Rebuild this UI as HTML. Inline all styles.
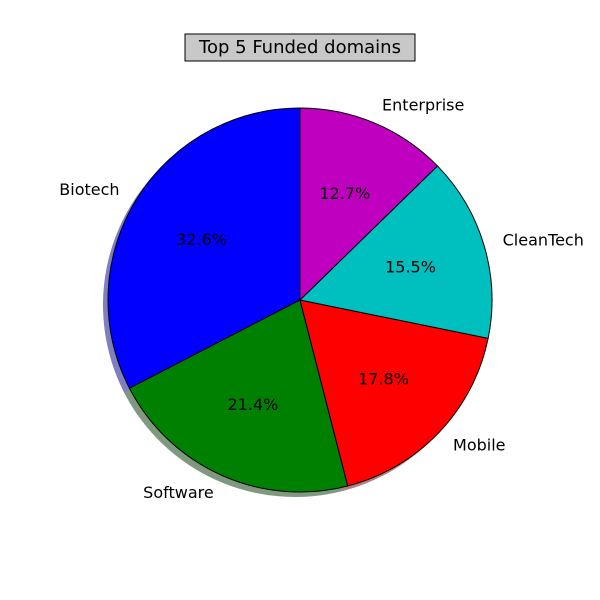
<!DOCTYPE html>
<html><head><meta charset="utf-8"><style>
html,body{margin:0;padding:0;background:#fff}
svg{display:block;font-family:"DejaVu Sans","Liberation Sans",sans-serif}
</style></head><body>
<svg id="chart" width="600" height="600" viewBox="0 0 600 600">
<rect width="600" height="600" fill="#fff"/>
<g>
<rect x="185" y="34" width="230" height="27" fill="#c8c8c8" stroke="#000" stroke-width="1"/>
<text x="300" y="53" font-size="18" text-anchor="middle">Top 5 Funded domains</text>
</g>
<g id="shadows"></g>
<g id="slices"></g>
<g id="labels"></g>
</svg>
<script>
const labels = ["Biotech","Software","Mobile","CleanTech","Enterprise"];
const values = [32.6,21.4,17.8,15.5,12.7];
const colors = ["#0000ff","#008000","#ff0000","#00bfbf","#bf00bf"];
const shadowColors = ["#000080","#003300","#660000","#004d4d","#4d004d"];
const cx=300, cy=300, R=192, startAngle=90;
const NS="http://www.w3.org/2000/svg";
const total = values.reduce((a,b)=>a+b,0);
function pt(deg,r,ox,oy){const a=deg*Math.PI/180;return [cx+(ox||0)+r*Math.cos(a), cy+(oy||0)-r*Math.sin(a)];}
function arcPath(a0,a1,ox,oy){
  const p0=pt(a0,R,ox,oy), p1=pt(a1,R,ox,oy);
  const large=(a1-a0)>180?1:0;
  return `M${cx+ox},${cy+oy} L${p0[0]},${p0[1]} A${R},${R} 0 ${large} 0 ${p1[0]},${p1[1]} Z`;
}
const sg=document.getElementById('shadows'), pg=document.getElementById('slices'), lg=document.getElementById('labels');
let cum=0;
values.forEach((v,i)=>{
  const a0=startAngle+cum/total*360, a1=startAngle+(cum+v)/total*360;
  cum+=v;
  const sh=document.createElementNS(NS,'path');
  sh.setAttribute('d',arcPath(a0,a1,-5,5));
  sh.setAttribute('fill',shadowColors[i]);
  sh.setAttribute('fill-opacity','0.5');
  
  
  sg.appendChild(sh);
  const p=document.createElementNS(NS,'path');
  p.setAttribute('d',arcPath(a0,a1,0,0));
  p.setAttribute('fill',colors[i]);
  p.setAttribute('stroke','#000');
  p.setAttribute('stroke-width','1');
  
  
  pg.appendChild(p);
  const mid=(a0+a1)/2;
  const lp=pt(mid,R*1.1);
  const t=document.createElementNS(NS,'text');
  t.setAttribute('x',lp[0]); t.setAttribute('y',lp[1]+5);
  t.setAttribute('font-size','16');
  t.setAttribute('text-anchor',lp[0]>=cx?'start':'end');
  t.textContent=labels[i];
  
  
  lg.appendChild(t);
  const pp=pt(mid,R*0.6);
  const t2=document.createElementNS(NS,'text');
  t2.setAttribute('x',pp[0]); t2.setAttribute('y',pp[1]+5);
  t2.setAttribute('font-size','16');
  t2.setAttribute('text-anchor','middle');
  t2.textContent=(v/total*100).toFixed(1)+'%';
  
  
  lg.appendChild(t2);
});
</script>
</body></html>
